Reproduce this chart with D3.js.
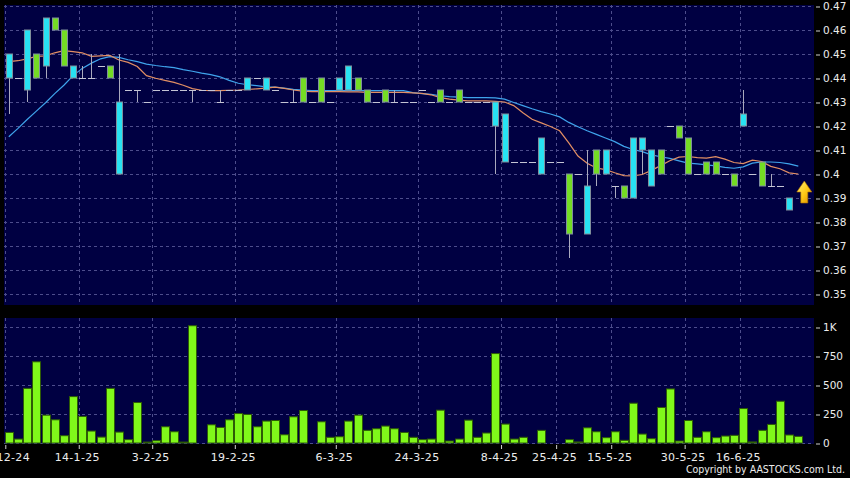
<!DOCTYPE html>
<html><head><meta charset="utf-8">
<script src="https://cdn.jsdelivr.net/npm/d3@7"></script>
<style>html,body{margin:0;padding:0;background:#000;}svg{display:block}</style>
</head><body>
<svg id="c" width="850" height="478"></svg>
<script>
// ---------- data (one entry per trading slot) ----------
const opens = [.45,.44,.46,.44,.465,.46,.445,.445,.44,.44,.445,.44,.43,.435,.435,.43,.435,.435,.435,.435,.435,.435,.435,.43,.435,.435,.44,.44,.44,.435,.43,.43,.43,.43,.43,.43,.44,.445,.435,.43,.43,.43,.43,.43,.43,.435,.43,.43,.43,.43,.43,.43,.43,.43,.425,.405,.405,.405,.415,.405,.405,.375,.40,.395,.40,.41,.395,.39,.415,.415,.41,.40,.42,.415,.40,.40,.40,.40,.40,.395,.425,.40,.395,.395,.395,.39,null];
const highs = [.45,.44,.46,.45,.465,.465,.46,.445,.445,.45,.445,.445,.45,.435,.435,.43,.435,.435,.435,.435,.435,.435,.435,.435,.435,.435,.44,.44,.44,.435,.43,.435,.44,.43,.44,.43,.44,.445,.44,.435,.43,.435,.435,.43,.43,.435,.43,.435,.43,.435,.43,.43,.43,.43,.425,.405,.405,.405,.415,.405,.405,.40,.40,.41,.41,.41,.395,.395,.415,.415,.41,.41,.42,.42,.415,.40,.405,.405,.40,.40,.435,.40,.405,.40,.395,.39,null];
const lows = [.425,.44,.43,.44,.44,.46,.445,.44,.44,.44,.445,.44,.40,.435,.43,.43,.435,.435,.435,.435,.43,.435,.435,.43,.435,.435,.435,.44,.435,.435,.43,.43,.43,.43,.43,.43,.435,.435,.435,.43,.43,.43,.43,.43,.43,.435,.43,.43,.43,.43,.43,.43,.43,.40,.405,.405,.405,.405,.40,.405,.405,.365,.40,.375,.395,.40,.39,.39,.39,.40,.395,.40,.42,.415,.40,.40,.40,.40,.40,.395,.42,.40,.395,.395,.395,.385,null];
const closes = [.44,.44,.435,.45,.445,.465,.46,.44,.44,.44,.445,.445,.40,.435,.435,.43,.435,.435,.435,.435,.435,.435,.435,.43,.435,.435,.435,.44,.435,.435,.43,.43,.44,.43,.44,.43,.435,.435,.44,.435,.43,.435,.43,.43,.43,.435,.43,.435,.43,.435,.43,.43,.43,.42,.405,.405,.405,.405,.40,.405,.405,.40,.40,.375,.41,.40,.395,.395,.39,.41,.395,.41,.42,.42,.415,.40,.405,.405,.40,.40,.42,.40,.405,.395,.395,.385,null];
const volumes = [91,34,471,700,240,200,63,400,229,103,51,471,94,29,349,8,20,140,97,8,1011,0,157,134,200,254,246,140,189,194,71,226,280,0,183,49,54,189,240,109,123,146,123,91,49,29,34,283,17,34,197,49,86,771,163,34,49,0,109,0,0,29,9,131,97,46,97,23,343,77,37,306,466,17,194,49,97,46,60,66,297,9,109,160,360,69,57];
const ma10 = [.4468,.4472,.448,.449,.4492,.4505,.4514,.451,.4505,.449,.4492,.4494,.4475,.4465,.4448,.441,.4399,.439,.4382,.437,.4356,.4349,.4347,.4347,.4349,.435,.4352,.4355,.4358,.4362,.4357,.435,.4345,.4343,.4343,.4343,.4343,.4342,.4342,.434,.434,.434,.434,.434,.4338,.4336,.433,.4318,.4312,.4308,.4305,.4305,.4305,.4303,.43,.4285,.4255,.4228,.4213,.4198,.418,.413,.4075,.4045,.4025,.4018,.4005,.3993,.3992,.3998,.4015,.4035,.4055,.407,.4073,.4068,.4066,.4072,.4062,.4048,.4043,.4058,.4052,.4032,.4022,.4005,.40];
const ma20 = [.4155,.419,.4227,.4262,.4297,.4335,.437,.441,.444,.4462,.448,.4489,.4486,.4476,.4468,.4458,.4452,.4447,.4443,.4435,.4428,.442,.4414,.4405,.439,.4378,.4372,.4368,.4363,.4362,.4358,.4353,.435,.4347,.4347,.4347,.4347,.4347,.4347,.4347,.4347,.4347,.4347,.4347,.4339,.4335,.4332,.4326,.4322,.432,.4318,.4318,.4318,.4317,.4312,.4298,.4285,.4272,.426,.425,.4238,.4215,.4197,.418,.4165,.415,.4135,.4115,.4102,.4093,.408,.4072,.4065,.4055,.4045,.4042,.4038,.4034,.4028,.4024,.403,.4045,.405,.405,.4048,.4042,.4033];
const priceTicks = [0.35,0.36,0.37,0.38,0.39,0.40,0.41,0.42,0.43,0.44,0.45,0.46,0.47];
const volumeTicks = [0,250,500,750,1000];
const dateLabels = ["31-12-24","14-1-25","3-2-25","19-2-25","6-3-25","24-3-25","8-4-25","25-4-25","15-5-25","30-5-25","16-6-25"];
const dateSlots = [-1,7,15,24,35,44,53,59,65,73,79];
const arrowPrice = 0.3925;

// ---------- layout ----------
const W = 850, H = 478;
const PL = 4, PR = 814, PT = 5, PB = 305, VT = 318, VB = 444;
const n = volumes.length;
const svg = d3.select("#c");
svg.append("rect").attr("width", W).attr("height", H).attr("fill", "#000");

const x = d3.scaleLinear().domain([0, n - 1]).range([8.8, 798.3]);
const yP = d3.scaleLinear().domain([0.35, 0.47]).range([294, 6]);
const yV = d3.scaleLinear().domain([0, 1000]).range([443, 327]);
const tickX = s => x(s + 0.62);

const NAVY = "#000042", GRID = "#4d4d8c";
svg.append("rect").attr("x", PL).attr("y", PT).attr("width", PR - PL).attr("height", PB - PT).attr("fill", NAVY);
svg.append("rect").attr("x", PL).attr("y", VT).attr("width", PR - PL).attr("height", VB - VT).attr("fill", NAVY);

const defs = svg.append("defs");
defs.append("clipPath").attr("id", "cp").append("rect").attr("x", PL).attr("y", PT).attr("width", PR - PL).attr("height", PB - PT);
defs.append("clipPath").attr("id", "cv").append("rect").attr("x", PL).attr("y", VT).attr("width", PR - PL).attr("height", VB - VT);
const grad = defs.append("linearGradient").attr("id", "ag").attr("x1", 0).attr("y1", 0).attr("x2", 1).attr("y2", 1);
grad.append("stop").attr("offset", "0%").attr("stop-color", "#fff27a");
grad.append("stop").attr("offset", "55%").attr("stop-color", "#ffc814");
grad.append("stop").attr("offset", "100%").attr("stop-color", "#d98a00");

// grids
const gP = svg.append("g").attr("clip-path", "url(#cp)");
gP.selectAll("line.h").data(priceTicks).join("line")
  .attr("x1", PL).attr("x2", PR).attr("y1", d => yP(d) + 0.5).attr("y2", d => yP(d) + 0.5)
  .attr("stroke", GRID).attr("stroke-dasharray", "3,3");
gP.selectAll("line.v").data(dateSlots).join("line")
  .attr("x1", d => Math.max(PL + 0.5, Math.round(tickX(d)) + 0.5)).attr("x2", d => Math.max(PL + 0.5, Math.round(tickX(d)) + 0.5))
  .attr("y1", PT).attr("y2", PB).attr("stroke", GRID).attr("stroke-dasharray", "3,3");
const gV = svg.append("g").attr("clip-path", "url(#cv)");
gV.selectAll("line.h").data(volumeTicks).join("line")
  .attr("x1", PL).attr("x2", PR).attr("y1", d => yV(d) + 0.5).attr("y2", d => yV(d) + 0.5)
  .attr("stroke", GRID).attr("stroke-dasharray", "3,3");
gV.selectAll("line.v").data(dateSlots).join("line")
  .attr("x1", d => Math.max(PL + 0.5, Math.round(tickX(d)) + 0.5)).attr("x2", d => Math.max(PL + 0.5, Math.round(tickX(d)) + 0.5))
  .attr("y1", VT).attr("y2", VB).attr("stroke", GRID).attr("stroke-dasharray", "3,3");

// moving averages
const line = arr => d3.line().x((d, i) => x(i)).y(d => yP(d)).curve(d3.curveLinear)(arr);
gP.append("path").attr("d", line(ma20)).attr("fill", "none").attr("stroke", "#3fa4ec").attr("stroke-width", 1.2);
gP.append("path").attr("d", line(ma10)).attr("fill", "none").attr("stroke", "#e28f64").attr("stroke-width", 1.2);

// candles
const idx = d3.range(n).filter(i => opens[i] !== null);
const cg = gP.append("g");
cg.selectAll("line.wick").data(idx.filter(i => highs[i] > lows[i])).join("line")
  .attr("x1", i => Math.round(x(i)) + 0.5).attr("x2", i => Math.round(x(i)) + 0.5)
  .attr("y1", i => yP(highs[i])).attr("y2", i => yP(lows[i]))
  .attr("stroke", "#a9a9bd").attr("stroke-width", 1);
cg.selectAll("line.flat").data(idx.filter(i => opens[i] === closes[i])).join("line")
  .attr("x1", i => Math.round(x(i)) - 3).attr("x2", i => Math.round(x(i)) + 4)
  .attr("y1", i => yP(closes[i]) + 0.5).attr("y2", i => yP(closes[i]) + 0.5)
  .attr("stroke", "#c4c4d4").attr("stroke-width", 1);
cg.selectAll("rect.body").data(idx.filter(i => opens[i] !== closes[i])).join("rect")
  .attr("x", i => Math.round(x(i)) - 2.5).attr("width", 6)
  .attr("y", i => yP(Math.max(opens[i], closes[i])))
  .attr("height", i => Math.abs(yP(opens[i]) - yP(closes[i])))
  .attr("fill", i => closes[i] < opens[i] ? "#28e2f2" : "#74dc24")
  .attr("stroke", "#7f8f9c").attr("stroke-width", 1);

// arrow at last slot
const ax = x(n - 1) + 6, ay = yP(arrowPrice);
svg.append("path")
  .attr("d", `M${ax},${ay - 11} L${ax + 7.5},${ay} L${ax + 3.5},${ay} L${ax + 3.5},${ay + 11} L${ax - 3.5},${ay + 11} L${ax - 3.5},${ay} L${ax - 7.5},${ay} Z`)
  .attr("fill", "url(#ag)").attr("stroke", "#b07000").attr("stroke-width", 0.6);

// volume bars
gV.selectAll("rect.vol").data(d3.range(n)).join("rect")
  .attr("x", i => Math.round(x(i)) - 3.5).attr("width", 8)
  .attr("y", i => yV(volumes[i])).attr("height", i => yV(0) - yV(volumes[i]))
  .attr("fill", "#80f81a").attr("stroke", "#2e5c06").attr("stroke-width", 1);

// axes
const FONT = "DejaVu Sans, Verdana, sans-serif";
const styleAxis = g => {
  g.select(".domain").remove();
  g.selectAll(".tick line").attr("stroke", "#d0d0d0");
  g.selectAll(".tick text").attr("fill", "#ececec").attr("font-family", FONT);
};
svg.append("g").attr("transform", `translate(${PR + 2},0.5)`)
  .call(d3.axisRight(yP).tickValues(priceTicks).tickSize(4).tickPadding(3).tickFormat(d3.format(".2~f")))
  .call(styleAxis).call(g => g.selectAll("text").attr("font-size", 10.5));
svg.append("g").attr("transform", `translate(${PR + 2},0.5)`)
  .call(d3.axisRight(yV).tickValues(volumeTicks).tickSize(4).tickPadding(3).tickFormat(d => d >= 1000 ? (d / 1000) + "K" : d))
  .call(styleAxis).call(g => g.selectAll("text").attr("font-size", 10.5));
const xAxisScale = d3.scaleLinear().domain(x.domain()).range(x.range());
svg.append("g").attr("transform", `translate(0,${VB + 1})`)
  .call(d3.axisBottom(xAxisScale).tickValues(dateSlots.map(s => s + 0.62)).tickSize(4).tickPadding(4)
    .tickFormat((d, i) => dateLabels[i]))
  .call(styleAxis)
  .call(g => g.selectAll("text").attr("font-size", 11).attr("letter-spacing", 0.3).attr("dx", -2));

svg.append("text").attr("x", 845).attr("y", 473).attr("text-anchor", "end")
  .attr("font-family", "DejaVu Sans Condensed, DejaVu Sans, sans-serif").attr("font-size", 10.5)
  .attr("fill", "#ececec").text("Copyright by AASTOCKS.com Ltd.");
</script>
</body></html>
